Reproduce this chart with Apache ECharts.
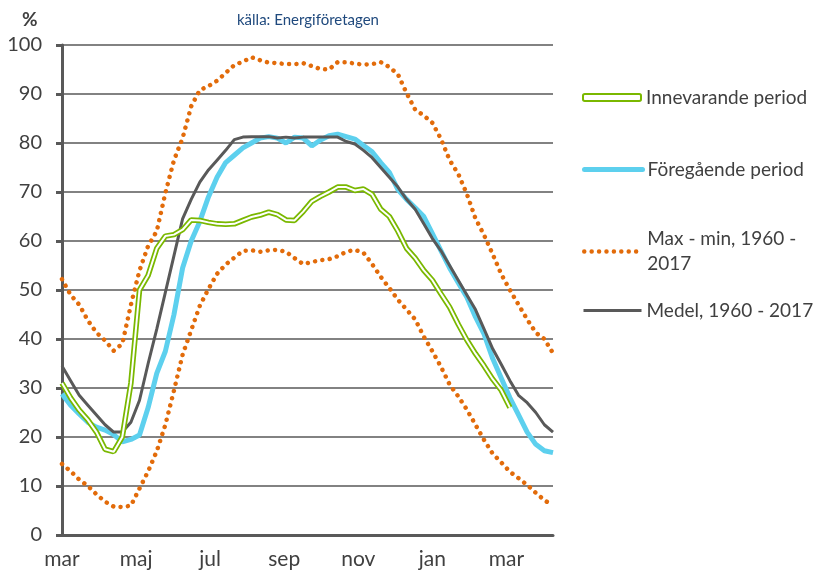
<!DOCTYPE html>
<html>
<head>
<meta charset="utf-8">
<script src="https://cdn.jsdelivr.net/npm/echarts@6/dist/echarts.min.js"></script>
<style>
html, body { margin: 0; padding: 0; background: #fff; }
#main { width: 814px; height: 572px; }
</style>
</head>
<body>
<div id="main"></div>
<script>
// veckovis fyllnadsgrad (%), vecka 0 = början av mars
var monthLabels = ['mar', 'maj', 'jul', 'sep', 'nov', 'jan', 'mar'];

var innevarande = [31, 28, 25.5, 23.5, 21, 17.5, 17, 20, 31, 50, 53, 58.5, 61, 61.3, 62.3, 64.3,
    64.2, 63.8, 63.5, 63.4, 63.5, 64.2, 64.9, 65.3, 65.9, 65.4, 64.3, 64.2, 66, 68.1, 69.1, 70,
    71, 71, 70.3, 70.6, 69.5, 66.5, 65, 62, 58.5, 56.5, 54, 52, 49.2, 46.5, 43, 39.8, 37, 34.5,
    31.8, 29.5, 26];

var foregaende = [28.8, 26.5, 24.7, 23, 22, 21.4, 20.5, 19, 19.5, 20.4, 26, 33, 37.5, 45, 54.5, 60,
    64, 69, 73, 76, 77.5, 79, 80, 81, 81.3, 81, 80, 81.2, 81, 79.4, 80.6, 81.5, 81.8, 81.3, 80.8,
    79.5, 78.2, 76, 74, 70.5, 68.5, 66.8, 65, 61.5, 58, 54.5, 51.5, 48.5, 44.5, 41, 36, 32, 28,
    24.5, 21, 18.5, 17.2, 16.8];

var maxValues = [52.2, 49, 47, 43.8, 41.3, 39.7, 37.6, 39, 47, 54, 59, 62, 69.8, 76.5, 81, 87.5,
    90.8, 91.6, 92.7, 94.3, 95.9, 96.6, 97.5, 96.9, 96.4, 96.3, 96.1, 96.1, 96.3, 95.7, 95.1, 95,
    96.5, 96.5, 96.2, 96, 96.1, 96.5, 95.5, 94, 90.2, 86.8, 85.6, 84.1, 80.8, 76.5, 73.7, 69.6,
    64.6, 61.2, 57.3, 53.2, 50, 47, 44, 41.3, 40, 37.1];

var minValues = [14.5, 13, 11.3, 10, 8.3, 6.8, 5.8, 5.7, 6, 9.5, 13, 17.1, 22.5, 29.5, 36.8, 41.8,
    46.8, 50.2, 53.3, 55.2, 56.6, 58, 58.1, 57.8, 58.1, 58.2, 57.8, 56.5, 55.3, 55.7, 56.1, 56.3,
    56.9, 57.8, 58.2, 57.6, 55.3, 52.7, 50.4, 48, 46, 44, 40.5, 37.5, 34.3, 30.7, 28.3, 25.6,
    22.5, 19.4, 16.6, 14.8, 12.9, 11.6, 10.2, 8.6, 7.1, 6];

var medel = [34.5, 31.5, 28.5, 26.5, 24.5, 22.5, 21, 21, 23, 27.5, 35, 42, 49.5, 57, 64.5, 68.5,
    72, 74.5, 76.5, 78.5, 80.7, 81.2, 81.3, 81.3, 81.3, 81, 81.2, 81, 81.2, 81.2, 81.2, 81.2,
    81.2, 80.3, 79.8, 78.5, 77, 75, 73, 71, 68.5, 66.5, 63.5, 60.5, 58, 55, 52, 49, 46, 42, 38,
    34.8, 31.5, 28.5, 27, 25, 22.5, 21];

var labelStep = 8.6;
var green = '#7AB800';
var blue = '#5DD0EE';
var orange = '#E26B0A';
var grey = '#595959';
var font = 'Lato';
var dotted = [0.01, 7.4];

function pairs(arr) {
    return arr.map(function (v, i) { return [i, v]; });
}

var legendText = { color: '#404040', fontSize: 19, fontFamily: font };

var myChart = echarts.init(document.getElementById('main'));

var option = {
    animation: false,
    backgroundColor: '#fff',
    textStyle: { fontFamily: font },
    title: [
        {
            text: '%', left: 17, top: 5,
            textStyle: { color: '#404040', fontSize: 19, fontWeight: 'bold', fontFamily: font }
        },
        {
            text: 'källa: Energiföretagen', left: 232, top: 8,
            textStyle: { color: '#1F497D', fontSize: 15, fontWeight: 'normal', fontFamily: font }
        }
    ],
    grid: { left: 62, right: 261, top: 45, bottom: 37 },
    legend: [
        {
            left: 582, top: 88, padding: 0, itemWidth: 58, itemHeight: 7, itemGap: 0,
            textStyle: legendText,
            data: [{
                name: 'Innevarande period', icon: 'roundRect',
                itemStyle: { color: '#fff', borderColor: green, borderWidth: 2 }
            }]
        },
        {
            left: 582, top: 160, padding: 0, itemWidth: 58, itemHeight: 14, itemGap: 0,
            textStyle: legendText, itemStyle: { opacity: 0 },
            lineStyle: { width: 5, cap: 'round' },
            data: ['Föregående period']
        },
        {
            left: 582, top: 214, padding: 0, itemWidth: 58, itemHeight: 14, itemGap: 0,
            textStyle: { color: '#404040', fontSize: 19, fontFamily: font, lineHeight: 25, padding: [25, 0, 0, 0] },
            itemStyle: { opacity: 0 },
            lineStyle: { width: 4.5, type: dotted, cap: 'round' },
            formatter: function () { return 'Max - min, 1960 -\n2017'; },
            data: ['Max - min, 1960 - 2017']
        },
        {
            left: 582, top: 301, padding: 0, itemWidth: 58, itemHeight: 14, itemGap: 0,
            textStyle: legendText, itemStyle: { opacity: 0 },
            lineStyle: { width: 3 },
            data: ['Medel, 1960 - 2017']
        }
    ],
    xAxis: {
        type: 'value',
        min: 0,
        max: 57,
        interval: labelStep,
        axisLine: { lineStyle: { color: grey, width: 3 } },
        axisTick: { show: false },
        splitLine: { show: false },
        axisLabel: {
            color: '#404040', fontSize: 21, fontFamily: font, margin: 14,
            formatter: function (v) {
                var i = Math.round(v / labelStep);
                return Math.abs(v - i * labelStep) < 0.01 && monthLabels[i] ? monthLabels[i] : '';
            }
        }
    },
    yAxis: {
        type: 'value',
        min: 0,
        max: 100,
        interval: 10,
        axisLine: { show: true, lineStyle: { color: grey, width: 3 } },
        axisTick: { show: true, length: 6, lineStyle: { color: grey, width: 3 } },
        splitLine: { lineStyle: { color: grey, width: 1.5 } },
        axisLabel: { color: '#404040', fontSize: 20, fontFamily: font, margin: 20 }
    },
    series: [
        {
            name: 'Föregående period', type: 'line', data: pairs(foregaende), symbol: 'none',
            itemStyle: { color: blue },
            lineStyle: { color: blue, width: 5 }, z: 2
        },
        {
            name: 'Medel, 1960 - 2017', type: 'line', data: pairs(medel), symbol: 'none',
            itemStyle: { color: grey },
            lineStyle: { color: grey, width: 3 }, z: 3
        },
        {
            name: 'Max - min, 1960 - 2017', type: 'line', data: pairs(maxValues), symbol: 'none',
            itemStyle: { color: orange },
            lineStyle: { color: orange, width: 4.5, type: dotted, cap: 'round' }, z: 4
        },
        {
            name: 'Max - min, 1960 - 2017', type: 'line', data: pairs(minValues), symbol: 'none',
            itemStyle: { color: orange },
            lineStyle: { color: orange, width: 4.5, type: dotted, cap: 'round' }, z: 4
        },
        {
            name: 'Innevarande period', type: 'line', data: pairs(innevarande), symbol: 'none',
            itemStyle: { color: green },
            lineStyle: { color: green, width: 5.5 }, z: 5
        },
        {
            name: 'innevarande_inre', type: 'line', data: pairs(innevarande), symbol: 'none',
            itemStyle: { color: '#fff' },
            lineStyle: { color: '#fff', width: 2 }, z: 6
        }
    ]
};

myChart.setOption(option);
</script>
</body>
</html>
